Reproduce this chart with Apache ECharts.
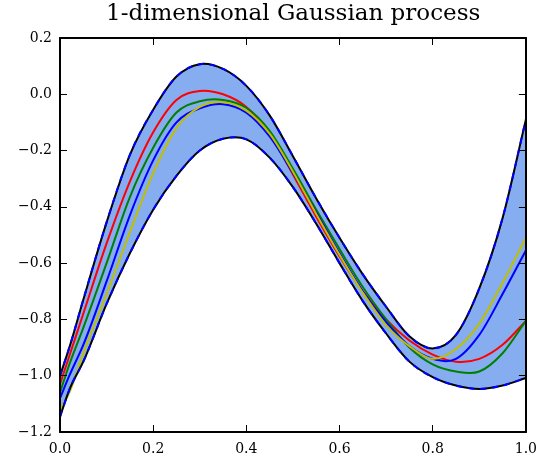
<!DOCTYPE html>
<html>
<head>
<meta charset="utf-8">
<script src="https://cdn.jsdelivr.net/npm/echarts@6/dist/echarts.min.js"></script>
<style>
  html, body { margin: 0; padding: 0; background: #fff; }
  #chart { width: 540px; height: 456px; }
</style>
</head>
<body>
<div id="chart"></div>
<script>
var xs = [0, 0.02, 0.05, 0.1, 0.15, 0.2, 0.25, 0.3, 0.35, 0.4, 0.45, 0.5,
          0.55, 0.6, 0.65, 0.7, 0.75, 0.8, 0.85, 0.9, 0.95, 1.0];

// confidence band
var upper = [-1.0, -0.9, -0.73, -0.455, -0.215, -0.055, 0.063, 0.107, 0.09, 0.03, -0.075, -0.22,
             -0.37, -0.51, -0.64, -0.755, -0.86, -0.903, -0.855, -0.69, -0.44, -0.09];
var lower = [-1.146, -1.05, -0.95, -0.745, -0.565, -0.41, -0.29, -0.2, -0.158, -0.16, -0.225, -0.33,
             -0.46, -0.6, -0.735, -0.85, -0.95, -1.005, -1.035, -1.047, -1.035, -1.008];

// sample paths
var red = [-1.03, -0.93, -0.78, -0.53, -0.31, -0.135, -0.02, 0.012, 0.0, -0.045, -0.14, -0.285,
           -0.435, -0.575, -0.7, -0.8, -0.875, -0.925, -0.95, -0.94, -0.89, -0.805];
var green = [-1.06, -0.96, -0.83, -0.6, -0.365, -0.19, -0.065, -0.025, -0.02, -0.048, -0.13, -0.265,
             -0.41, -0.55, -0.685, -0.8, -0.9, -0.96, -0.985, -0.985, -0.92, -0.805];
var blue = [-1.08, -1.0, -0.89, -0.665, -0.43, -0.235, -0.1, -0.05, -0.035, -0.065, -0.15, -0.28,
            -0.42, -0.565, -0.7, -0.81, -0.895, -0.94, -0.94, -0.855, -0.71, -0.555];
var yellow = [-1.12, -1.06, -0.92, -0.71, -0.49, -0.28, -0.12, -0.045, -0.028, -0.058, -0.14, -0.275,
              -0.425, -0.57, -0.705, -0.82, -0.895, -0.94, -0.905, -0.815, -0.67, -0.51];

var serif = 'DejaVu Serif';

function fmt(v) {
  if (Math.abs(v) < 1e-9) v = 0;
  return v.toFixed(1).replace('-', '\u2212');
}

// cubic Hermite segments through the points, in pixel space (x stays monotone)
function segments(api, arr) {
  var p = xs.map(function (x, i) { return api.coord([x, arr[i]]); });
  var n = p.length, m = [];
  for (var i = 0; i < n; i++) {
    if (i === 0) m.push((p[1][1] - p[0][1]) / (p[1][0] - p[0][0]));
    else if (i === n - 1) m.push((p[i][1] - p[i - 1][1]) / (p[i][0] - p[i - 1][0]));
    else {
      var h0 = p[i][0] - p[i - 1][0], h1 = p[i + 1][0] - p[i][0];
      var s0 = (p[i][1] - p[i - 1][1]) / h0, s1 = (p[i + 1][1] - p[i][1]) / h1;
      m.push((s0 * h1 + s1 * h0) / (h0 + h1));
    }
  }
  var segs = [];
  for (var j = 0; j < n - 1; j++) {
    var h = (p[j + 1][0] - p[j][0]) / 3;
    segs.push({
      a: p[j],
      c1: [p[j][0] + h, p[j][1] + m[j] * h],
      c2: [p[j + 1][0] - h, p[j + 1][1] - m[j + 1] * h],
      b: p[j + 1]
    });
  }
  return segs;
}
function pt(q) { return q[0].toFixed(2) + ' ' + q[1].toFixed(2); }
function forward(segs) {
  var d = 'M' + pt(segs[0].a);
  segs.forEach(function (s) { d += ' C' + pt(s.c1) + ' ' + pt(s.c2) + ' ' + pt(s.b); });
  return d;
}
function backward(segs) {
  var d = ' L' + pt(segs[segs.length - 1].b);
  for (var k = segs.length - 1; k >= 0; k--) {
    var s = segs[k];
    d += ' C' + pt(s.c2) + ' ' + pt(s.c1) + ' ' + pt(s.a);
  }
  return d;
}

function curveSeries(name, arr, color, dash) {
  return {
    name: name,
    type: 'custom',
    coordinateSystem: 'cartesian2d',
    silent: true,
    data: [[0, 0]],
    renderItem: function (params, api) {
      return {
        type: 'path',
        shape: { pathData: forward(segments(api, arr)) },
        style: { fill: null, stroke: color, lineWidth: 2, lineDash: dash || null }
      };
    }
  };
}

var bandSeries = {
  name: 'band',
  type: 'custom',
  coordinateSystem: 'cartesian2d',
  silent: true,
  data: [[0, 0]],
  renderItem: function (params, api) {
    var d = forward(segments(api, upper)) + backward(segments(api, lower)) + ' Z';
    return {
      type: 'path',
      shape: { pathData: d },
      style: { fill: '#86adf0', stroke: null }
    };
  }
};

var chart = echarts.init(document.getElementById('chart'));

var axisLine = { show: true, onZero: false, lineStyle: { color: '#000', width: 2 } };
var tick = { show: true, inside: true, length: 7, lineStyle: { color: '#000', width: 1 } };

chart.setOption({
  animation: false,
  backgroundColor: '#fff',
  title: {
    text: '1-dimensional Gaussian process',
    left: 106,
    top: 3,
    padding: 0,
    textStyle: { fontFamily: serif, fontSize: 23, fontWeight: 'normal', color: '#000' }
  },
  grid: { left: 60, right: 14, top: 38, bottom: 24 },
  xAxis: [{
    type: 'value', min: 0, max: 1, interval: 0.2, position: 'bottom', z: 5,
    axisLine: axisLine, axisTick: tick, splitLine: { show: false },
    axisLabel: { formatter: fmt, fontFamily: serif, fontSize: 14, color: '#000', margin: 10 }
  }, {
    type: 'value', min: 0, max: 1, interval: 0.2, position: 'top', z: 5,
    axisLine: axisLine, axisTick: tick, splitLine: { show: false },
    axisLabel: { show: false }
  }],
  yAxis: [{
    type: 'value', min: -1.2, max: 0.2, interval: 0.2, position: 'left', z: 5,
    axisLine: axisLine, axisTick: tick, splitLine: { show: false },
    axisLabel: { formatter: fmt, fontFamily: serif, fontSize: 14, color: '#000', margin: 8 }
  }, {
    type: 'value', min: -1.2, max: 0.2, interval: 0.2, position: 'right', z: 5,
    axisLine: axisLine, axisTick: tick, splitLine: { show: false },
    axisLabel: { show: false }
  }],
  series: [
    bandSeries,
    curveSeries('red', red, '#ff0000'),
    curveSeries('green', green, '#008000'),
    curveSeries('blue', blue, '#0000ff'),
    curveSeries('yellow', yellow, '#bfbf00'),
    curveSeries('upper', upper, '#000000'),
    curveSeries('lower', lower, '#000000'),
    curveSeries('upperDash', upper, '#0000ff', [6, 6]),
    curveSeries('lowerDash', lower, '#0000ff', [6, 6])
  ]
});
</script>
</body>
</html>
